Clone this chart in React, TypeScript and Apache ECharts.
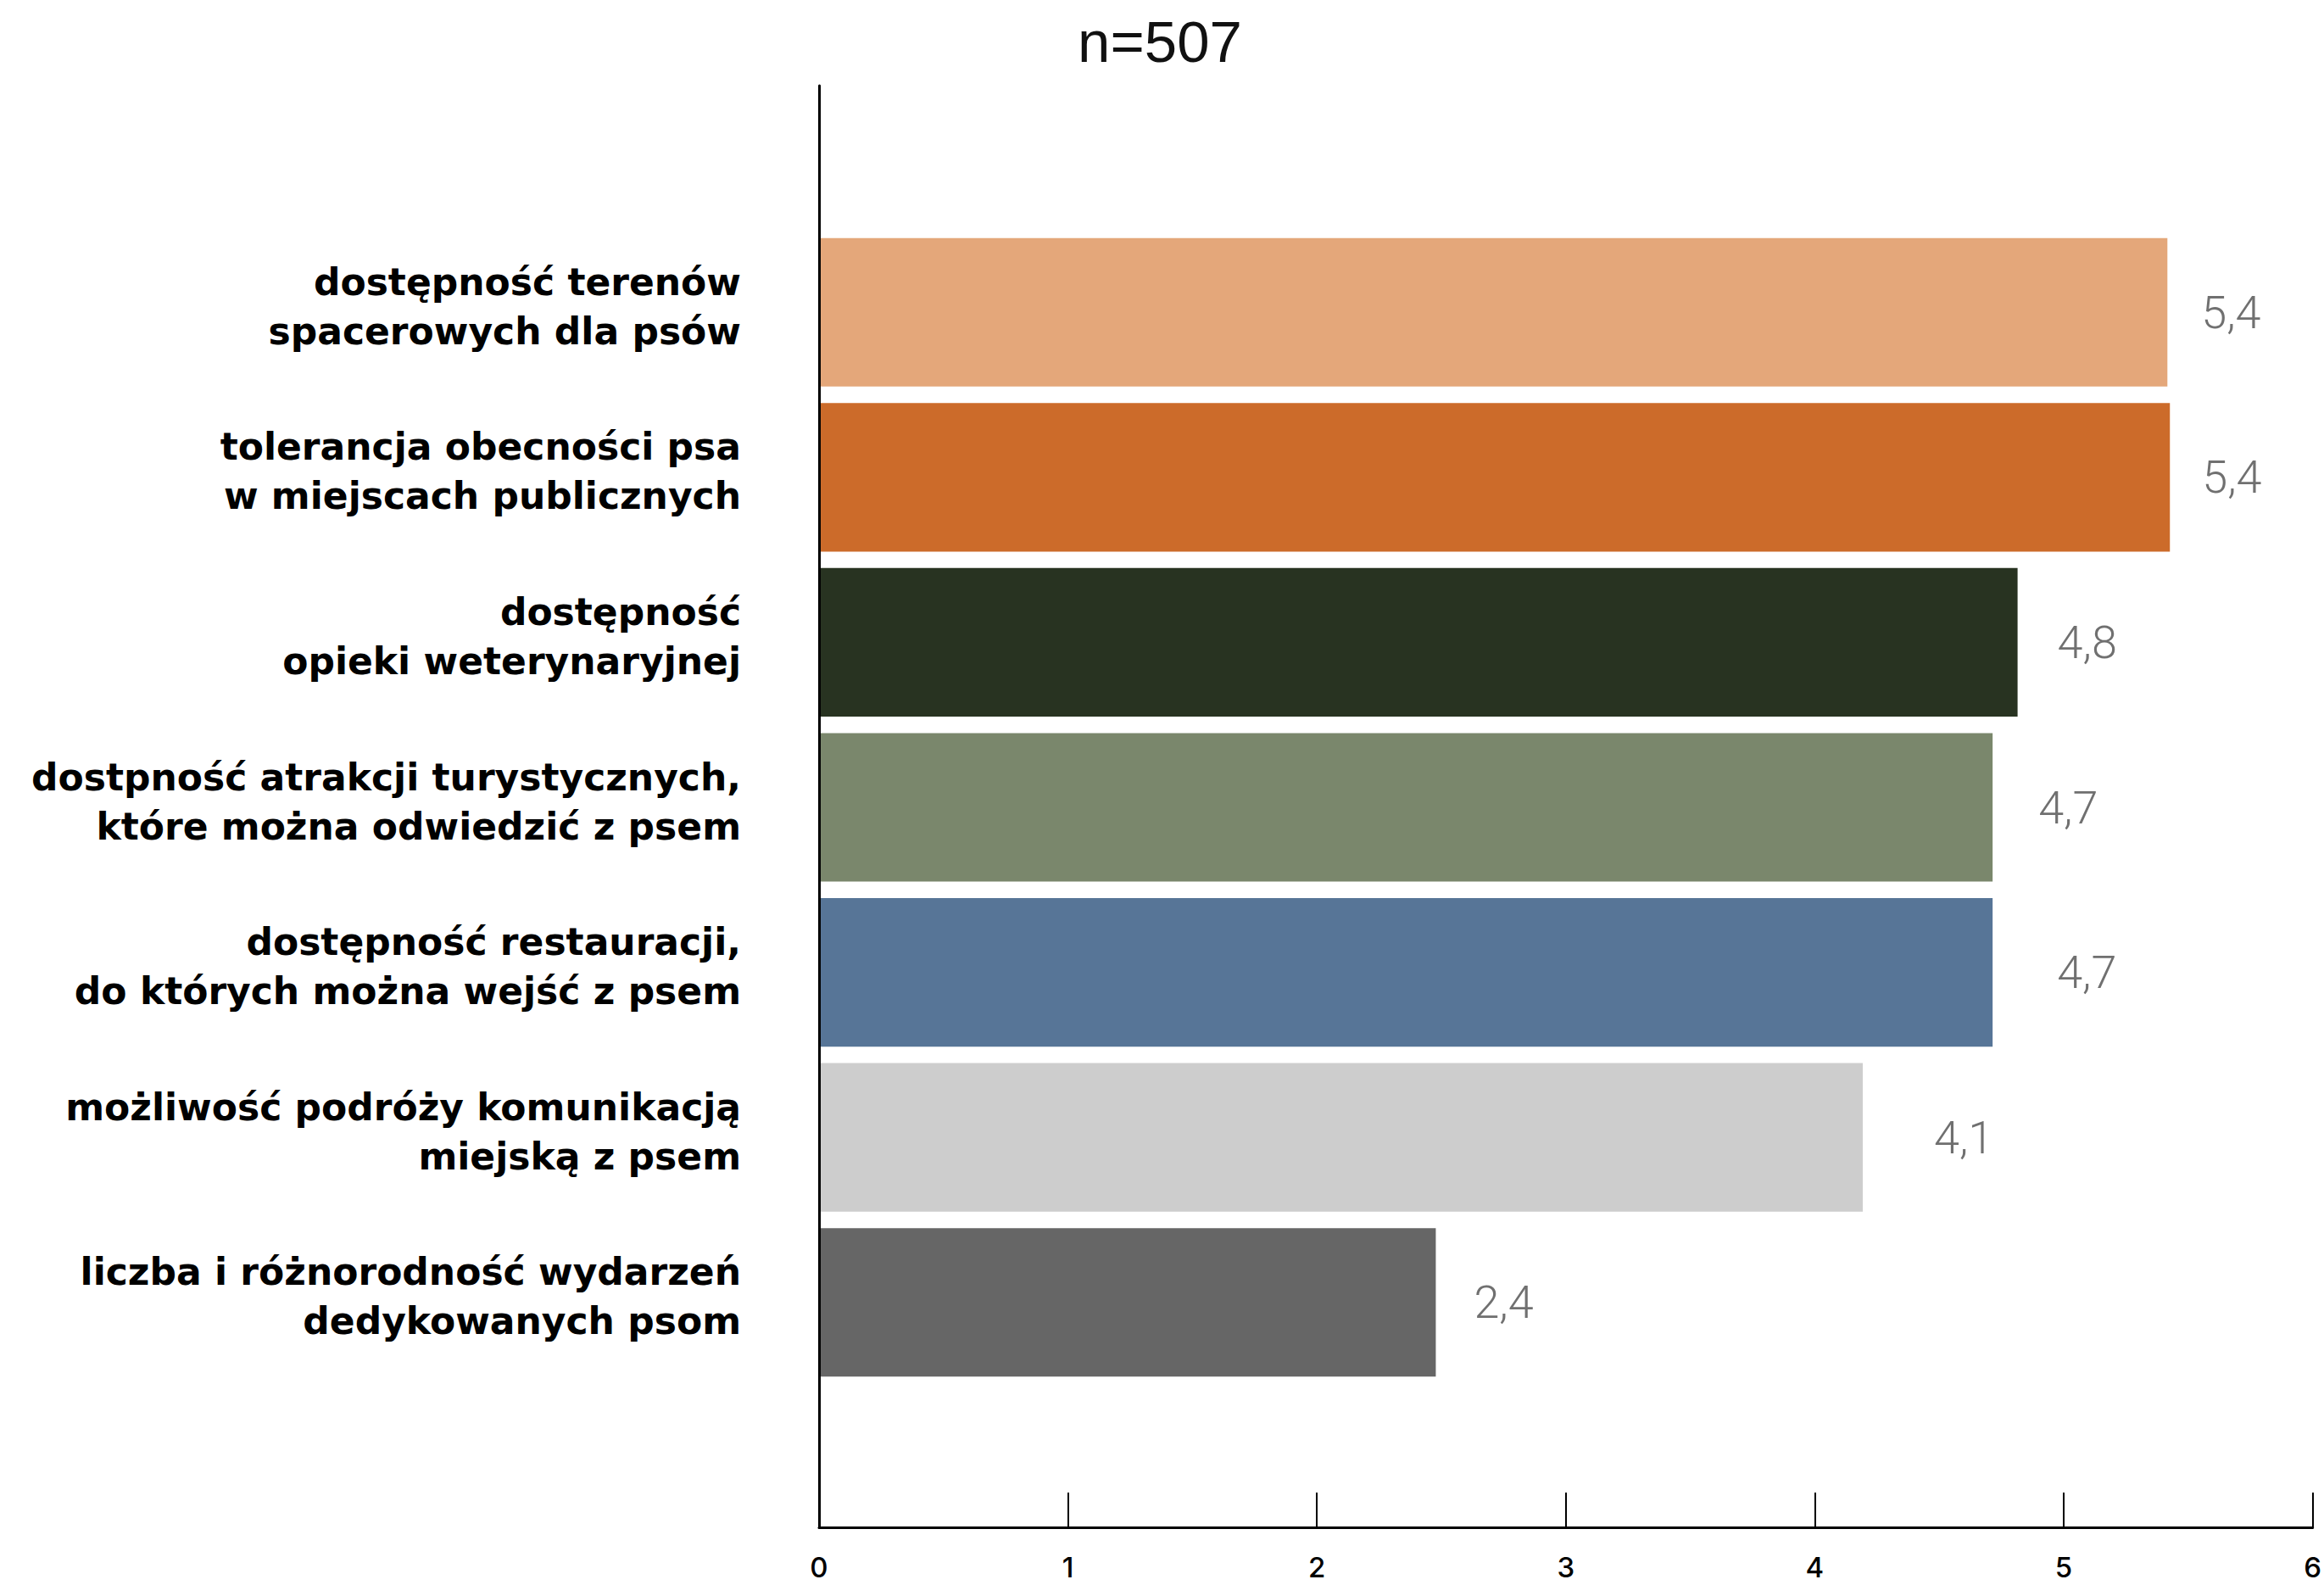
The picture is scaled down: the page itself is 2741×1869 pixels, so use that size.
import React, { useEffect, useRef } from "react";
import * as echarts from "echarts";

const categories = [
  "dostępność terenów\nspacerowych dla psów",
  "tolerancja obecności psa\nw miejscach publicznych",
  "dostępność\nopieki weterynaryjnej",
  "dostpność atrakcji turystycznych,\nktóre można odwiedzić z psem",
  "dostępność restauracji,\ndo których można wejść z psem",
  "możliwość podróży komunikacją\nmiejską z psem",
  "liczba i różnorodność wydarzeń\ndedykowanych psom",
];

const values = [5.4, 5.41, 4.8, 4.7, 4.7, 4.18, 2.47];
const valueLabels = ["5,4", "5,4", "4,8", "4,7", "4,7", "4,1", "2,4"];
const barColors = ["#E4A77A", "#CC6B2A", "#283321", "#7A876C", "#577597", "#CDCDCD", "#666666"];
const labelDistances = [40, 38, 47, 54, 76, 84, 45];
const xTicks = [0, 1, 2, 3, 4, 5, 6];
const title = "n=507";

export default function App() {
  const ref = useRef<HTMLDivElement>(null);
  useEffect(() => {
    if (!ref.current) return;
    const chart = echarts.init(ref.current, null, { renderer: "svg" });
    const left = 966;
    const right = 2741 - 2733;
    chart.setOption({
      animation: false,
      backgroundColor: "#ffffff",
      title: {
        text: title,
        left: 1363,
        top: 10,
        textAlign: "center",
        textStyle: {
          fontFamily: "Liberation Sans",
          fontSize: 69,
          fontWeight: "normal",
          color: "#111111",
        },
      },
      grid: [
        { left, right, top: 101, bottom: 1869 - 1801 },
        { left, right, top: 271, bottom: 1869 - 1633 },
      ],
      xAxis: [
        {
          gridIndex: 0,
          type: "value",
          min: xTicks[0],
          max: xTicks[xTicks.length - 1],
          interval: 1,
          z: 5,
          axisLine: { show: true, lineStyle: { color: "#000", width: 3 } },
          axisTick: { show: true, inside: true, length: 41, lineStyle: { color: "#000", width: 2 } },
          splitLine: { show: false },
          axisLabel: {
            margin: 30,
            fontFamily: "Inter",
            fontWeight: 500,
            fontSize: 33,
            color: "#000",
          },
        },
        {
          gridIndex: 1,
          type: "value",
          min: xTicks[0],
          max: xTicks[xTicks.length - 1],
          show: false,
        },
      ],
      yAxis: [
        {
          gridIndex: 0,
          type: "value",
          z: 5,
          axisLine: { show: true, lineStyle: { color: "#000", width: 3 } },
          axisTick: { show: false },
          axisLabel: { show: false },
          splitLine: { show: false },
        },
        {
          gridIndex: 1,
          type: "category",
          inverse: true,
          data: categories,
          axisLine: { show: false },
          axisTick: { show: false },
          axisLabel: {
            margin: 92,
            align: "right",
            formatter: (v: string) =>
              v
                .split("\n")
                .map((line) => `{t|${line}}`)
                .join("\n") + "\n{s| }",
            rich: {
              t: {
                fontFamily: "DejaVu Sans",
                fontWeight: "bold",
                fontSize: 44,
                lineHeight: 58,
                color: "#000",
                align: "right",
              },
              s: {
                fontSize: 2,
                lineHeight: 14,
                align: "right",
              },
            },
          },
        },
      ],
      series: [
        {
          type: "bar",
          xAxisIndex: 1,
          yAxisIndex: 1,
          barCategoryGap: "10%",
          data: values.map((v, i) => ({
            value: v,
            itemStyle: { color: barColors[i] },
            label: {
              show: true,
              position: "right",
              distance: labelDistances[i],
              formatter: () => valueLabels[i],
              fontFamily: "Roboto",
              fontWeight: 300,
              fontSize: 54,
              color: "#707070",
            },
          })),
        },
      ],
    });
    return () => chart.dispose();
  }, []);
  return (
    <div
      ref={ref}
      style={{ position: "fixed", left: 0, top: 0, width: 2741, height: 1869 }}
    />
  );
}
